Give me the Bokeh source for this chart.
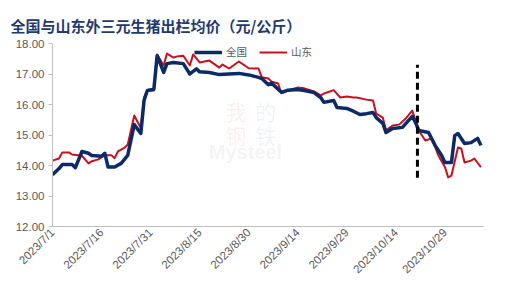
from datetime import date, timedelta
from bokeh.plotting import figure
from bokeh.models import ColumnDataSource, FixedTicker, Legend, LegendItem, Range1d
from bokeh.embed import file_html
from bokeh.resources import INLINE
from bokeh.core.properties import value
import math

title_text = "全国与山东外三元生猪出栏均价（元/公斤）"
start_date = date(2023, 7, 1)

national_days = [0, 2, 3, 6, 7, 9, 11, 12, 15, 16, 17, 19, 21, 23, 25, 27, 28, 29, 31, 32, 34, 35, 37, 40, 42, 44, 45, 48, 51, 54, 57, 60, 63, 64, 66, 67, 70, 72, 75, 77, 80, 82, 83, 86, 87, 90, 92, 94, 96, 98, 99, 101, 102, 104, 107, 110, 111, 112, 115, 117, 119, 120, 122, 123, 124, 126, 128, 130, 131]
national_vals = [13.70, 13.90, 14.03, 14.03, 13.93, 14.46, 14.40, 14.33, 14.30, 14.40, 13.95, 13.95, 14.07, 14.33, 15.34, 15.05, 16.13, 16.46, 16.50, 17.60, 17.05, 17.34, 17.38, 17.34, 17.00, 17.17, 17.07, 17.05, 16.98, 17.00, 17.02, 16.97, 16.89, 16.85, 16.65, 16.70, 16.40, 16.47, 16.49, 16.46, 16.39, 16.23, 16.07, 16.13, 15.90, 15.87, 15.78, 15.67, 15.70, 15.74, 15.57, 15.38, 15.08, 15.21, 15.25, 15.61, 15.41, 15.15, 15.08, 14.66, 14.33, 14.10, 14.10, 14.98, 15.05, 14.72, 14.75, 14.89, 14.66]

shandong_days = [0, 2, 3, 5, 6, 9, 11, 12, 14, 16, 18, 19, 20, 22, 23, 25, 27, 28, 29, 31, 32, 34, 35, 37, 38, 40, 42, 43, 45, 48, 51, 52, 54, 57, 60, 63, 64, 66, 67, 69, 70, 72, 75, 77, 80, 82, 83, 86, 88, 90, 92, 93, 96, 98, 99, 101, 102, 104, 106, 108, 110, 111, 112, 114, 116, 118, 120, 121, 122, 124, 125, 126, 128, 129, 131]
shandong_vals = [14.16, 14.23, 14.43, 14.43, 14.36, 14.32, 14.07, 14.14, 14.20, 14.34, 14.34, 14.24, 14.46, 14.58, 14.68, 15.64, 15.23, 16.23, 16.46, 16.46, 17.64, 17.28, 17.67, 17.54, 17.57, 17.60, 17.28, 17.64, 17.38, 17.44, 17.21, 17.31, 17.18, 17.41, 17.19, 17.18, 16.89, 16.85, 16.75, 16.69, 16.37, 16.46, 16.56, 16.53, 16.43, 16.30, 16.36, 16.47, 16.23, 16.26, 16.23, 16.23, 16.16, 16.13, 15.70, 15.57, 15.15, 15.31, 15.34, 15.54, 15.80, 15.48, 15.15, 14.82, 14.89, 14.33, 13.95, 13.61, 13.67, 14.59, 14.56, 14.10, 14.16, 14.23, 13.95]

tick_days = [0, 15, 30, 45, 60, 75, 90, 105, 120]
tick_labels = [(start_date + timedelta(days=d)).strftime("%Y/%-m/%-d") for d in tick_days]
y_ticks = [12, 13, 14, 15, 16, 17, 18]

divider_day = 111.6
divider_low, divider_high = 13.6, 17.3

series_names = ["全国", "山东"]

p = figure(width=512, height=290, output_backend="svg", toolbar_location=None,
           x_range=Range1d(0, 131.8), y_range=Range1d(12, 18),
           min_border_left=52, min_border_right=29, min_border_top=43, min_border_bottom=64)
p.outline_line_color = None
p.background_fill_color = "white"
p.border_fill_color = "white"
p.xgrid.grid_line_color = None
p.ygrid.grid_line_color = None

p.title.text = title_text
p.title.text_font = "Noto Sans CJK SC"
p.title.text_font_size = "15px"
p.title.text_font_style = "bold"
p.title.text_color = "#1F3A70"
p.title.align = "left"
p.title.offset = -42
p.title.standoff = 16

# faint watermark
wm_font = value("Noto Sans CJK SC")
p.text(x=[56, 65.1], y=[15.8, 15.8], text=["我", "的"], text_font=wm_font, text_font_size="21px",
       text_color=["#E04040", "#4060B0"], text_alpha=0.09, text_align="center", text_baseline="middle")
p.text(x=[56, 65.1], y=[15.0, 15.0], text=["钢", "铁"], text_font=wm_font, text_font_size="21px",
       text_color=["#E04040", "#4060B0"], text_alpha=0.09, text_align="center", text_baseline="middle")
p.text(x=[59], y=[14.43], text=["Mysteel"], text_font=value("Liberation Sans"), text_font_size="20px",
       text_font_style="bold", text_color="#909090", text_alpha=0.1, text_align="center", text_baseline="middle")

src_n = ColumnDataSource(dict(x=national_days, y=national_vals))
src_s = ColumnDataSource(dict(x=shandong_days, y=shandong_vals))
r_s = p.line("x", "y", source=src_s, line_color="#C8101E", line_width=2, line_join="round")
r_n = p.line("x", "y", source=src_n, line_color="#0B2A67", line_width=3.5, line_join="round")

p.segment(x0=[divider_day], y0=[divider_low], x1=[divider_day], y1=[divider_high],
          line_color="black", line_width=3, line_dash="7 4")

legend = Legend(items=[LegendItem(label=series_names[0], renderers=[r_n]),
                       LegendItem(label=series_names[1], renderers=[r_s])],
                orientation="horizontal", location=(142, 167))
legend.border_line_color = None
legend.background_fill_alpha = 0
legend.label_text_font = "Noto Sans CJK SC"
legend.label_text_font_size = "10.5px"
legend.label_text_color = "#595959"
legend.glyph_width = 28
legend.glyph_height = 12
legend.label_height = 12
legend.spacing = 12
legend.label_standoff = 4
legend.padding = 0
legend.margin = 0
p.add_layout(legend, "center")

for ax in (p.xaxis[0], p.yaxis[0]):
    ax.axis_line_color = "#BFBFBF"
    ax.major_tick_line_color = "#BFBFBF"
    ax.minor_tick_line_color = None
    ax.major_label_text_color = "#595959"
    ax.major_label_text_font = "Liberation Sans"
    ax.major_label_text_font_size = "11.5px"

p.yaxis.ticker = FixedTicker(ticks=y_ticks)
p.yaxis.major_label_overrides = {t: f"{t:.2f}" for t in y_ticks}
p.yaxis.major_tick_in = 0
p.yaxis.major_tick_out = 4
p.yaxis.major_label_standoff = 4

p.xaxis.ticker = FixedTicker(ticks=tick_days)
p.xaxis.major_label_overrides = {d: l for d, l in zip(tick_days, tick_labels)}
p.xaxis.major_label_orientation = math.pi / 4
p.xaxis.major_tick_in = 0
p.xaxis.major_tick_out = 0
p.xaxis.major_label_standoff = 4

open("out.html", "w").write(file_html(p, INLINE))
